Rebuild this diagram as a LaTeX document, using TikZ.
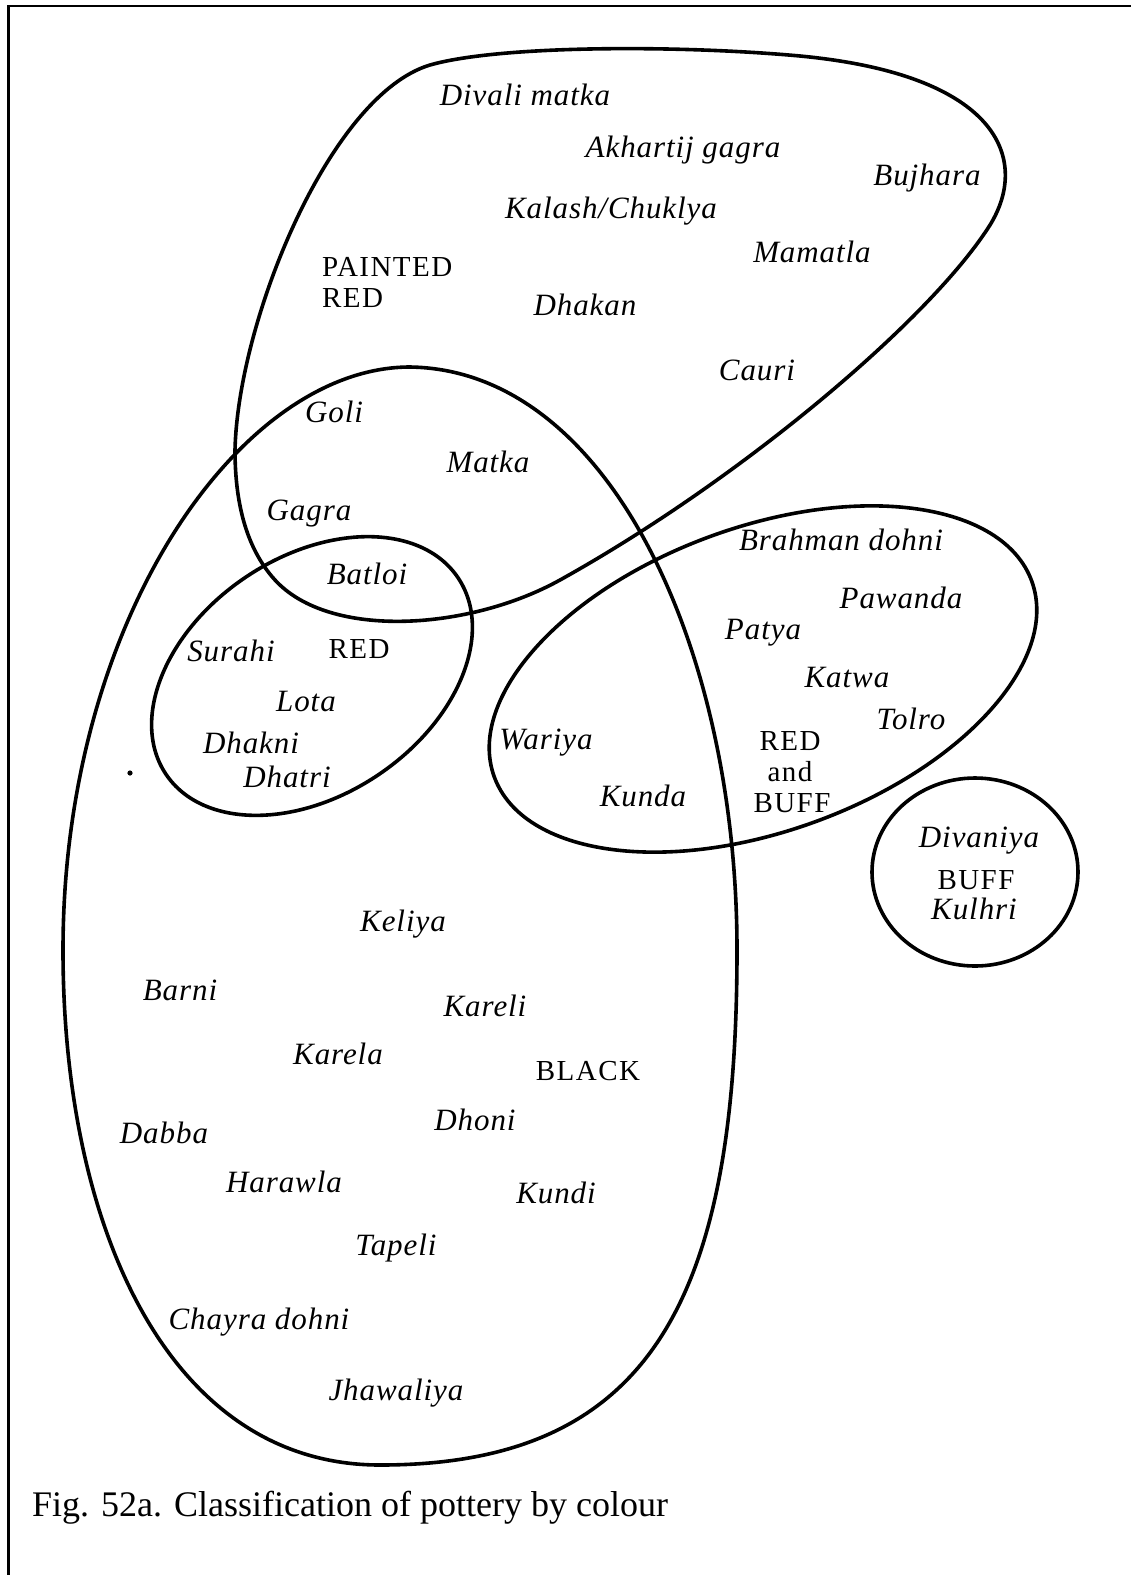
\documentclass[tikz,border=0pt]{standalone}
\usepackage{fontspec}
\setmainfont{Liberation Serif}
\newfontfamily\capsfont[LetterSpace=5]{Liberation Serif}
\newfontfamily\labfont[LetterSpace=3]{Liberation Serif}
\begin{document}
\begin{tikzpicture}[x=1pt,y=-1pt,
  outline/.style={line width=3.6pt,line join=round},
  lab/.style={anchor=base,inner sep=0pt,font=\fontsize{31}{35}\labfont\itshape},
  capc/.style={anchor=base,inner sep=0pt,font=\fontsize{29}{32}\capsfont},
  capl/.style={anchor=base west,inner sep=0pt,font=\fontsize{29}{32}\capsfont}]
\useasboundingbox (0,0) rectangle (1131,1575);
% frame
\draw[line width=2.6pt] (8.5,1575) -- (8.5,6) -- (1131,6);
% speck
\fill (130,773) circle (2.6);
% PAINTED RED
\draw[outline] (235,450) .. controls (238,320) and (330,95) .. (430,65)
  .. controls (500,45) and (680,45) .. (800,56)
  .. controls (1000,75) and (1030,160) .. (990,225)
  .. controls (930,320) and (740,480) .. (560,580)
  .. controls (470,630) and (330,640) .. (275,580)
  .. controls (245,547) and (235,500) .. (235,450) -- cycle;
% BLACK
\draw[outline] (63,950) .. controls (63,620) and (240,367) .. (410,367)
  .. controls (610,370) and (737,650) .. (737,950)
  .. controls (737,1300) and (650,1465) .. (380,1465)
  .. controls (170,1465) and (63,1230) .. (63,950) -- cycle;
% RED
\draw[outline,rotate around={34:(312,676)}] (312,676) ellipse [x radius=176, y radius=119];
% RED and BUFF
\draw[outline,rotate around={20:(763,679)}] (763,679) ellipse [x radius=286, y radius=152];
% BUFF
\draw[outline] (975,872) ellipse [x radius=103, y radius=94];

% labels: painted red
\node[lab] (divalimatka) at (525,105) {Divali matka};
\node[lab] (akhartij) at (683,157) {Akhartij gagra};
\node[lab] (bujhara) at (927,185) {Bujhara};
\node[lab] (kalash) at (611,218) {Kalash/Chuklya};
\node[capl] (painted) at (322,276) {PAINTED};
\node[capl] (pred) at (322,307) {RED};
\node[lab] (mamatla) at (812,262) {Mamatla};
\node[lab] (dhakan) at (585,315) {Dhakan};
\node[lab] (cauri) at (757,380) {Cauri};
\node[lab] (goli) at (334,422) {Goli};
\node[lab] (matka) at (488,472) {Matka};
\node[lab] (gagra) at (309,520) {Gagra};
\node[lab] (batloi) at (367,584) {Batloi};
% red
\node[lab] (surahi) at (231,661) {Surahi};
\node[capc] (red) at (359,658) {RED};
\node[lab] (lota) at (306,711) {Lota};
\node[lab] (dhakni) at (251,753) {Dhakni};
\node[lab] (dhatri) at (287,787) {Dhatri};
% red and buff
\node[lab] (wariya) at (546,749) {Wariya};
\node[lab] (kunda) at (643,806) {Kunda};
\node[lab] (brahman) at (841,550) {Brahman dohni};
\node[lab] (pawanda) at (901,608) {Pawanda};
\node[lab] (patya) at (763,639) {Patya};
\node[lab] (katwa) at (847,687) {Katwa};
\node[lab] (tolro) at (911,729) {Tolro};
\node[capc] (rbred) at (790,750) {RED};
\node[capc] (rband) at (790,781) {and};
\node[capc] (rbbuff) at (792,812) {BUFF};
% buff
\node[lab] (divaniya) at (979,847) {Divaniya};
\node[capc] (buff) at (976,889) {BUFF};
\node[lab] (kulhri) at (974,919) {Kulhri};
% black
\node[lab] (keliya) at (403,931) {Keliya};
\node[lab] (barni) at (180,1000) {Barni};
\node[lab] (kareli) at (485,1016) {Kareli};
\node[lab] (karela) at (338,1064) {Karela};
\node[capc] (black) at (588,1080) {BLACK};
\node[lab] (dhoni) at (475,1130) {Dhoni};
\node[lab] (dabba) at (164,1143) {Dabba};
\node[lab] (harawla) at (284,1192) {Harawla};
\node[lab] (kundi) at (556,1203) {Kundi};
\node[lab] (tapeli) at (396,1255) {Tapeli};
\node[lab] (chayra) at (259,1329) {Chayra dohni};
\node[lab] (jhawaliya) at (396,1400) {Jhawaliya};
% caption
\node[anchor=base west,inner sep=0pt,font=\fontsize{36}{42}\selectfont] (caption) at (32,1516) {Fig. 52a. Classification of pottery by colour};
\end{tikzpicture}
\end{document}
